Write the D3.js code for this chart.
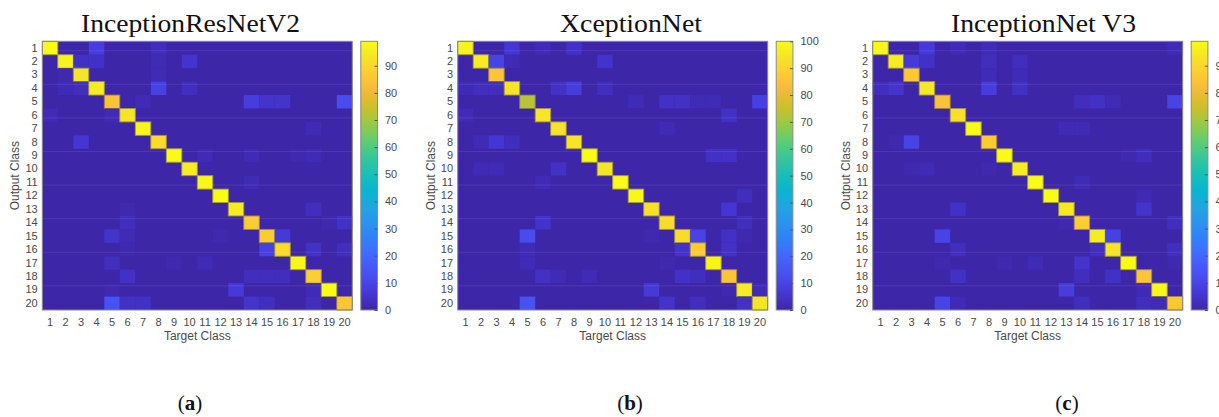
<!DOCTYPE html>
<html>
<head>
<meta charset="utf-8">
<script src="https://cdn.jsdelivr.net/npm/d3@7"></script>
<style>
  body { margin: 0; background: #fff; }
  svg { display: block; }
</style>
</head>
<body>
<svg id="chart" width="1219" height="417"></svg>
<script>
// class labels shared by both axes
const classes = ['1','2','3','4','5','6','7','8','9','10','11','12','13','14','15','16','17','18','19','20'];

const modelNames = ['InceptionResNetV2', 'XceptionNet', 'InceptionNet V3'];
const panelTags = ['a', 'b', 'c'];

// diagonal (correct) percentages, one per class
const diagResNetV2 = [99, 97, 93, 95, 84, 93, 98, 91, 99, 95, 98, 99, 95, 87, 87, 91, 98, 88, 99, 85];
const diagXception = [98, 96, 86, 94, 73, 94, 94, 94, 100, 94, 100, 99, 93, 92, 92, 88, 98, 86, 96, 94];
const diagInceptionV3 = [98, 95, 86, 94, 84, 92, 99, 87, 99, 95, 99, 99, 94, 87, 95, 93, 99, 85, 98, 86];

// off-diagonal entries: [output class, target class, percent]
const offResNetV2 = [
  [1,4,8],[1,8,3],[2,3,4],[2,4,4],[2,8,2],[2,10,5],[3,2,1],[3,8,2],
  [4,2,2],[4,3,3],[4,8,9],[4,10,3],[5,7,2],[5,14,8],[5,15,5],[5,16,5],[5,20,12],
  [6,1,2],[6,5,2],[7,18,2],[8,3,6],[9,11,2],[9,14,2],[9,17,1],[9,18,2],
  [11,14,2],[13,6,1],[13,18,3],[14,6,3],[14,19,1],[14,20,4],
  [15,5,5],[15,6,2],[15,12,1],[15,16,7],[16,6,1],[16,15,9],[16,18,4],[16,20,3],
  [17,5,3],[17,9,1],[17,11,2],[18,6,4],[18,14,3],[18,15,3],[18,16,3],
  [19,5,1],[19,13,7],[19,18,2],[20,5,14],[20,6,4],[20,7,4],[20,14,5],[20,15,3],[20,18,3]
];
const offXception = [
  [1,4,6],[1,6,2],[1,8,4],[2,3,10],[2,4,2],[2,10,5],
  [4,1,2],[4,2,3],[4,3,3],[4,7,4],[4,8,8],[4,10,3],
  [5,12,2],[5,14,4],[5,15,4],[5,16,2],[5,17,2],[5,20,9],
  [6,1,2],[6,18,4],[7,14,2],[8,2,2],[8,3,6],[8,4,3],[9,17,4],[9,18,4],
  [10,2,2],[10,3,2],[10,7,4],[11,6,2],[12,19,3],[13,18,6],[14,6,5],[14,19,3],
  [15,5,12],[15,13,1],[15,16,10],[15,18,4],[15,19,1],[16,5,2],[16,15,5],[16,18,4],
  [17,5,2],[17,14,1],[18,6,4],[18,7,2],[18,9,2],[18,15,4],[18,16,3],
  [19,13,7],[19,18,1],[19,20,2],[20,5,14],[20,14,5],[20,16,3],[20,19,4]
];
const offInceptionV3 = [
  [1,4,7],[1,6,2],[1,8,2],[1,20,2],[2,3,7],[2,4,4],[2,8,3],[2,10,3],[3,8,2],[3,10,2],
  [4,1,3],[4,2,5],[4,8,8],[4,10,4],[5,14,3],[5,15,4],[5,16,2],[5,20,10],
  [7,13,2],[7,14,2],[8,2,1],[8,3,10],[9,17,1],[9,18,3],[10,3,1],[10,4,2],[10,8,1],
  [11,14,2],[12,18,2],[13,6,4],[13,18,5],[14,13,1],[14,20,3],[15,5,10],[15,16,9],
  [16,6,3],[16,15,3],[16,20,3],[17,5,1],[17,9,1],[17,11,2],[17,14,5],[17,20,1],
  [18,6,4],[18,14,3],[18,16,4],[19,13,8],[19,18,2],[20,5,10],[20,6,2],[20,14,3],[20,18,3],[20,19,2]
];

const diagonals = [diagResNetV2, diagXception, diagInceptionV3];
const offDiagonals = [offResNetV2, offXception, offInceptionV3];

// parula colormap stops
const parula = [
  [62,38,168],[69,55,213],[72,77,240],[69,99,253],[50,124,252],[43,145,239],
  [32,165,227],[8,181,208],[25,191,182],[55,200,151],[100,205,111],[157,201,67],
  [209,191,39],[248,186,61],[252,207,48],[245,233,36],[249,251,21]
].map(c => d3.rgb(c[0], c[1], c[2]).toString());
const parulaPos = [0,4,8,12,16,20,24,28,32,36,40,44,48,52,56,60,63].map(i => i / 63);
const parulaScale = d3.scaleLinear().domain(parulaPos).range(parula).interpolate(d3.interpolateRgb).clamp(true);

const svg = d3.select('#chart');
svg.append('rect').attr('width', 1219).attr('height', 417).attr('fill', '#fff');

const defs = svg.append('defs');
const grad = defs.append('linearGradient')
    .attr('id', 'cbar')
    .attr('x1', 0).attr('y1', 1).attr('x2', 0).attr('y2', 0);
d3.range(0, 1.0001, 0.02).forEach(t => {
  grad.append('stop').attr('offset', t).attr('stop-color', parulaScale(t));
});

const matW = 310, matH = 268.7, matTop = 41.3;
const panelLeft = [42.3, 457.7, 872.7];
const titleX = [190.5, 631, 1043.5];
const titleLen = [219, 142, 185];
const tagX = [190, 630, 1067];
const textGray = '#4a4a4a';
const sansFont = 'Liberation Sans, Arial, sans-serif';
const serifFont = 'Liberation Serif, Palatino, serif';

modelNames.forEach((name, i) => {
  const x0 = panelLeft[i];
  const g = svg.append('g');

  // build the 20x20 matrix
  const lookup = new Map(offDiagonals[i].map(d => [d[0] + '-' + d[1], d[2]]));
  const cells = [];
  classes.forEach((rowLab, r) => {
    classes.forEach((colLab, c) => {
      const v = r === c ? diagonals[i][r] : (lookup.get((r + 1) + '-' + (c + 1)) || 0);
      cells.push({ row: rowLab, col: colLab, value: v });
    });
  });
  const vmax = d3.max(cells, d => d.value);

  const x = d3.scaleBand().domain(classes).range([x0, x0 + matW]);
  const y = d3.scaleBand().domain(classes).range([matTop, matTop + matH]);
  const color = v => parulaScale(v / vmax);

  // base fill so no white seams show between cells
  g.append('rect')
    .attr('x', x0).attr('y', matTop)
    .attr('width', matW).attr('height', matH)
    .attr('fill', color(0));

  g.selectAll('rect.cell')
    .data(cells.filter(d => d.value > 0))
  .enter().append('rect')
    .attr('class', 'cell')
    .attr('x', d => x(d.col))
    .attr('y', d => y(d.row))
    .attr('width', x.bandwidth())
    .attr('height', y.bandwidth())
    .attr('fill', d => color(d.value))
    .attr('stroke', d => d3.interpolateRgb(color(d.value), '#3a3060')(0.45))
    .attr('stroke-width', d => d.value > 40 ? 0.9 : 0);

  // faint resampling streaks across the matrix
  d3.range(8).forEach(k => {
    const yy = matTop + matH * (0.035 + k * 0.125);
    g.append('line')
      .attr('x1', x0).attr('x2', x0 + matW)
      .attr('y1', yy).attr('y2', yy)
      .attr('stroke', '#fff').attr('stroke-opacity', 0.09).attr('stroke-width', 1);
  });

  g.append('rect')
    .attr('x', x0).attr('y', matTop)
    .attr('width', matW).attr('height', matH)
    .attr('fill', 'none').attr('stroke', '#8a8a8a').attr('stroke-width', 1);

  const xAxis = g.append('g')
    .attr('transform', 'translate(0,' + (matTop + matH) + ')')
    .call(d3.axisBottom(x).tickSize(0).tickPadding(8));
  const yAxis = g.append('g')
    .attr('transform', 'translate(' + x0 + ',0)')
    .call(d3.axisLeft(y).tickSize(0).tickPadding(4.6));
  [xAxis, yAxis].forEach(a => {
    a.select('.domain').remove();
    a.attr('font-family', sansFont).attr('font-size', 11);
    a.selectAll('text').attr('fill', textGray);
  });

  g.append('text')
    .attr('x', x0 + matW / 2).attr('y', 340)
    .attr('text-anchor', 'middle')
    .attr('font-family', sansFont).attr('font-size', 12)
    .attr('fill', textGray)
    .text('Target Class');

  g.append('text')
    .attr('transform', 'translate(' + (x0 - 23) + ',' + (matTop + matH / 2) + ') rotate(-90)')
    .attr('text-anchor', 'middle')
    .attr('font-family', sansFont).attr('font-size', 12)
    .attr('fill', textGray)
    .text('Output Class');

  // colorbar
  const cbX = x0 + 318.5, cbW = 16.7;
  const cScale = d3.scaleLinear().domain([0, vmax]).range([matTop + matH, matTop]);
  g.append('rect')
    .attr('x', cbX).attr('y', matTop)
    .attr('width', cbW).attr('height', matH)
    .attr('fill', 'url(#cbar)')
    .attr('stroke', '#8a8a8a').attr('stroke-width', 1);
  const cbAxis = g.append('g')
    .attr('transform', 'translate(' + (cbX + cbW) + ',0)')
    .call(d3.axisRight(cScale).ticks(10).tickSize(-3).tickPadding(7.5));
  cbAxis.select('.domain').remove();
  cbAxis.attr('font-family', sansFont).attr('font-size', 11);
  cbAxis.selectAll('line').attr('stroke', '#555');
  cbAxis.selectAll('text').attr('fill', textGray);

  g.append('text')
    .attr('x', titleX[i]).attr('y', 32)
    .attr('text-anchor', 'middle')
    .attr('font-family', serifFont).attr('font-size', 25)
    .attr('textLength', titleLen[i]).attr('lengthAdjust', 'spacingAndGlyphs')
    .attr('fill', '#111')
    .text(name);

  const tag = g.append('text')
    .attr('x', tagX[i]).attr('y', 410)
    .attr('text-anchor', 'middle')
    .attr('font-family', serifFont).attr('font-size', 21)
    .attr('fill', '#111');
  tag.append('tspan').text('(');
  tag.append('tspan').attr('font-weight', 'bold').text(panelTags[i]);
  tag.append('tspan').text(')');
});
</script>
</body>
</html>
